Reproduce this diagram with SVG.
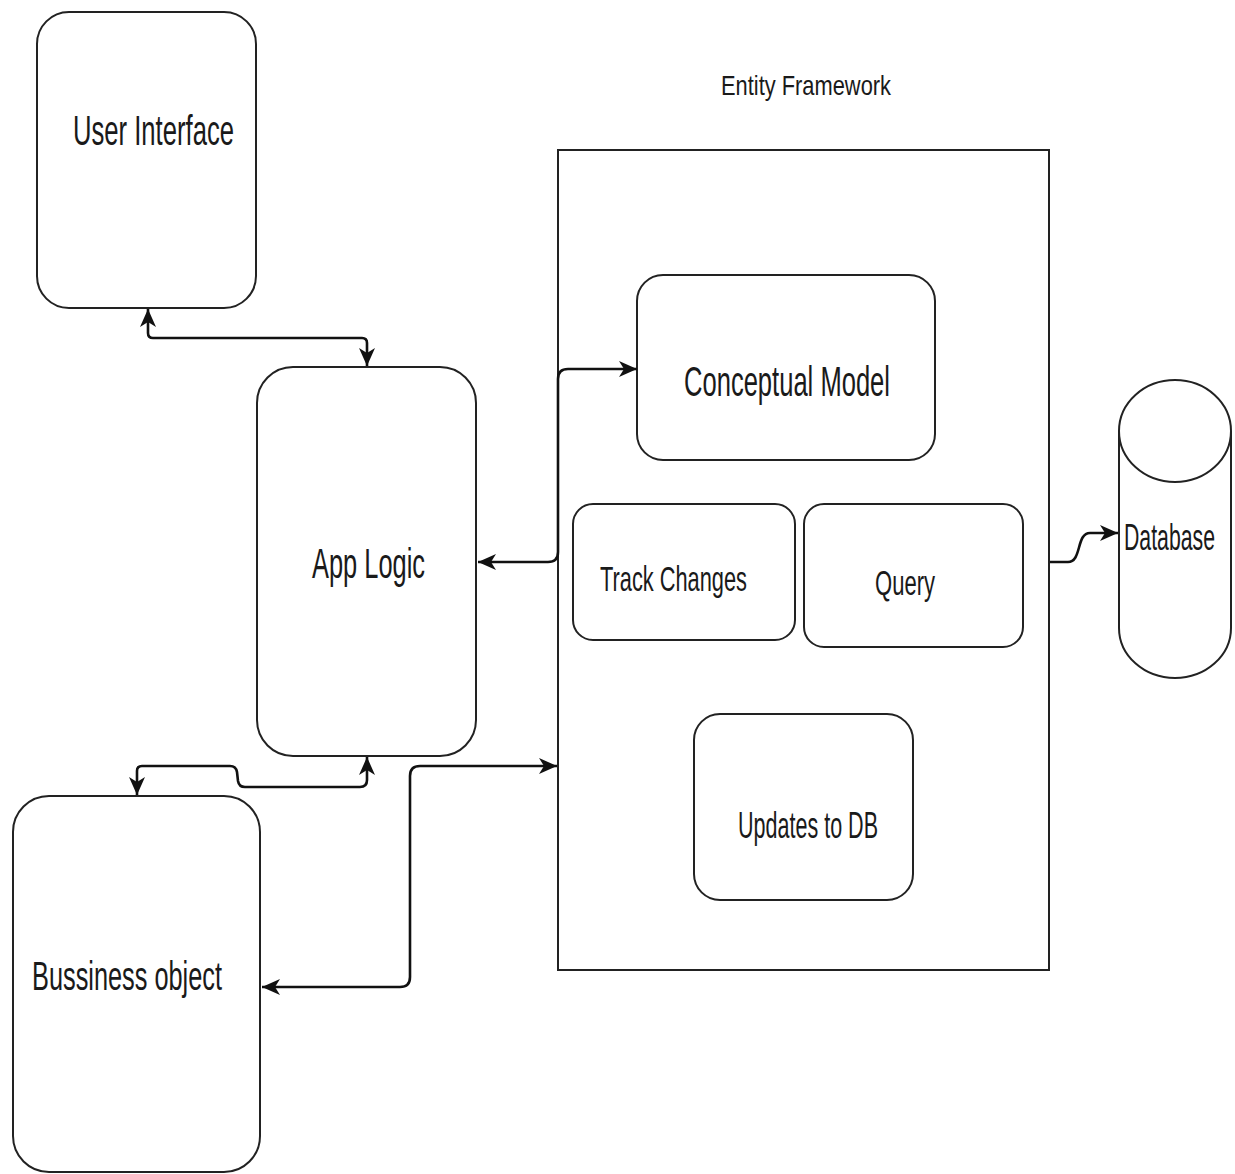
<svg xmlns="http://www.w3.org/2000/svg" width="1235" height="1174" viewBox="0 0 1235 1174">
<style>
.box{fill:#fff;stroke:#222;stroke-width:2}
.lbl{font-family:"Liberation Sans",Arial,sans-serif;fill:#1a1a1a}
.edge{fill:none;stroke:#111;stroke-width:2.6}
</style>
<defs>
<marker id="arr" markerUnits="userSpaceOnUse" markerWidth="20" markerHeight="20" viewBox="0 0 20 20" refX="19" refY="10" orient="auto-start-reverse">
<path d="M1,2 L19,10 L1,18 L6,10 Z" fill="#111"/>
</marker>
</defs>
<rect width="1235" height="1174" fill="#fff"/>
<g id="entity-framework">
<rect x="558" y="150" width="491" height="820" class="box"/>
<text class="lbl" x="721" y="95" font-size="28" textLength="170" lengthAdjust="spacingAndGlyphs">Entity Framework</text>
</g>
<g id="user-interface">
<rect x="37" y="12" width="219" height="296" rx="32" class="box"/>
<text class="lbl" x="73" y="145" font-size="42" textLength="161" lengthAdjust="spacingAndGlyphs">User Interface</text>
</g>
<g id="app-logic">
<rect x="257" y="367" width="219" height="389" rx="36" class="box"/>
<text class="lbl" x="312" y="578" font-size="42" textLength="113" lengthAdjust="spacingAndGlyphs">App Logic</text>
</g>
<g id="bussiness-object">
<rect x="13" y="796" width="247" height="376" rx="36" class="box"/>
<text class="lbl" x="32" y="990" font-size="40" textLength="190" lengthAdjust="spacingAndGlyphs">Bussiness object</text>
</g>
<g id="conceptual-model">
<rect x="637" y="275" width="298" height="185" rx="26" class="box"/>
<text class="lbl" x="684" y="396" font-size="42" textLength="206" lengthAdjust="spacingAndGlyphs">Conceptual Model</text>
</g>
<g id="track-changes">
<rect x="573" y="504" width="222" height="136" rx="20" class="box"/>
<text class="lbl" x="600" y="591" font-size="35" textLength="147" lengthAdjust="spacingAndGlyphs">Track Changes</text>
</g>
<g id="query">
<rect x="804" y="504" width="219" height="143" rx="20" class="box"/>
<text class="lbl" x="875" y="595" font-size="35" textLength="60" lengthAdjust="spacingAndGlyphs">Query</text>
</g>
<g id="updates-to-db">
<rect x="694" y="714" width="219" height="186" rx="26" class="box"/>
<text class="lbl" x="738" y="838" font-size="36" textLength="140" lengthAdjust="spacingAndGlyphs">Updates to DB</text>
</g>
<g id="database">
<path d="M1119,431 A56,51 0 0 1 1231,431 L1231,628 A56,50 0 0 1 1119,628 Z" class="box"/>
<path d="M1119,431 A56,51 0 0 0 1231,431" fill="none" stroke="#222" stroke-width="2"/>
<text class="lbl" x="1124" y="550" font-size="37" textLength="91" lengthAdjust="spacingAndGlyphs">Database</text>
</g>
<g id="connectors">
<path class="edge" d="M148,309 L148,333 Q148,338 153,338 L362,338 Q367,338 367,343 L367,366" marker-start="url(#arr)" marker-end="url(#arr)"/>
<path class="edge" d="M137,795 L137,771 Q137,766 142,766 L230,766 Q236,766 237,772 L238,781 Q239,787 245,787 L360,787 Q367,787 367,780 L367,757" marker-start="url(#arr)" marker-end="url(#arr)"/>
<path class="edge" d="M478,562 L548,562 Q558,562 558,552 L558,379 Q558,369 568,369 L637,369" marker-start="url(#arr)" marker-end="url(#arr)"/>
<path class="edge" d="M262,987 L400,987 Q410,987 410,977 L410,776 Q410,766 420,766 L557,766" marker-start="url(#arr)" marker-end="url(#arr)"/>
<path class="edge" d="M1050,562 L1068,562 C1082,562 1076,533 1090,533 L1118,533" marker-end="url(#arr)"/>
</g>
</svg>
